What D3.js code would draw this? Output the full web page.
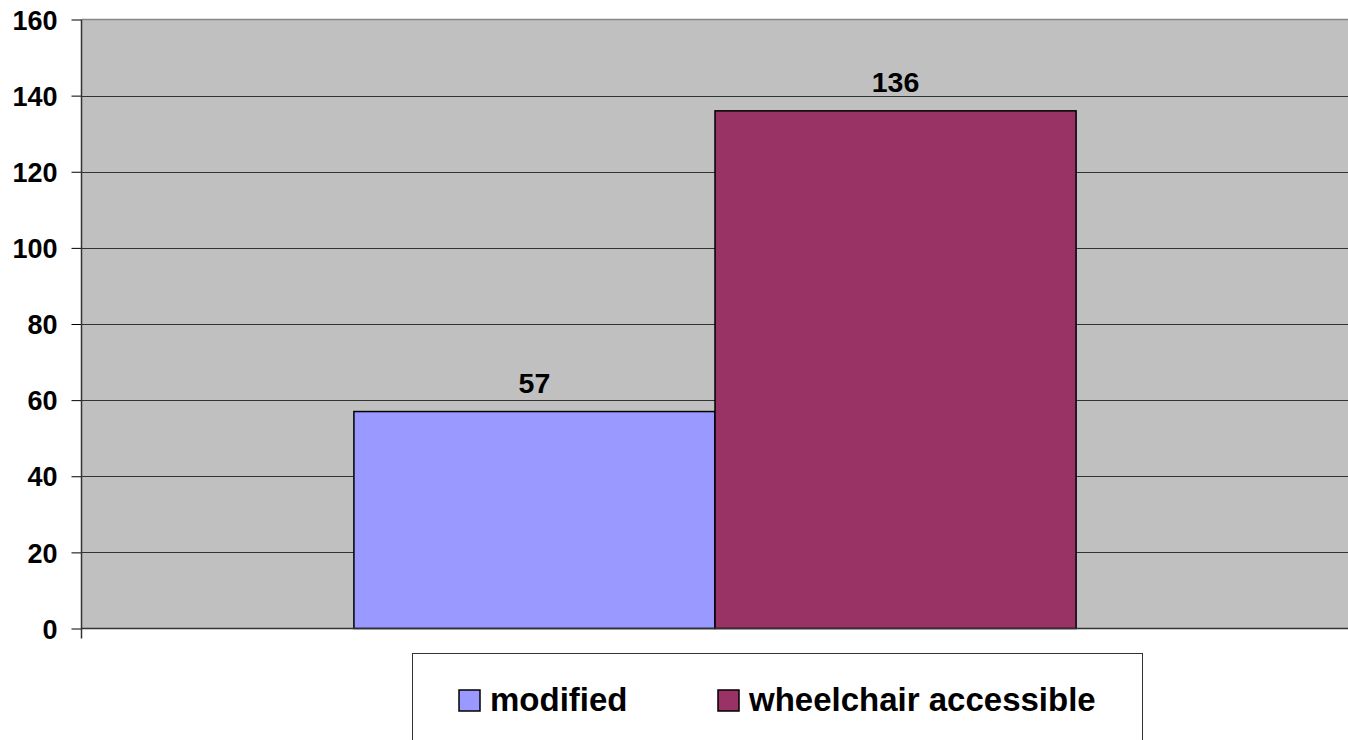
<!DOCTYPE html>
<html><head><meta charset="utf-8">
<script src="https://cdn.jsdelivr.net/npm/d3@7"></script>
<style>html,body{margin:0;padding:0;background:#fff;overflow:hidden}svg{display:block}</style>
</head><body>
<script>
const categories = [""];
const seriesNames = ["modified", "wheelchair accessible"];
const seriesValues = [57, 136];
const seriesColors = ["#9999FF", "#993366"];
const yTicks = [0, 20, 40, 60, 80, 100, 120, 140, 160];

const W = 1348, H = 740;
const svg = d3.select("body").append("svg").attr("width", W).attr("height", H);
const pL = 82, pR = 1348, pT = 19.5, pB = 628.5;

const y = d3.scaleLinear().domain([0, 160]).range([pB, pT]);
const x0 = d3.scaleBand().domain(categories).range([pL, pR]).paddingInner(0).paddingOuter(0.3765);
const x1 = d3.scaleBand().domain(seriesNames).range([0, x0.bandwidth()]);

svg.append("rect").attr("x", pL).attr("y", pT).attr("width", pR - pL).attr("height", pB - pT).attr("fill", "#C0C0C0");

// gridlines
svg.append("g").selectAll("line").data(yTicks.filter(d => d > 0 && d < 160)).join("line")
  .attr("x1", pL).attr("x2", pR).attr("y1", d => Math.round(y(d)) + 0.5).attr("y2", d => Math.round(y(d)) + 0.5)
  .attr("stroke", "#333").attr("stroke-width", 1);
// top border
svg.append("line").attr("x1", pL).attr("x2", pR).attr("y1", pT).attr("y2", pT).attr("stroke", "#888").attr("stroke-width", 1.5);

// bars
const g = svg.append("g").attr("transform", `translate(${x0(categories[0])},0)`);
g.selectAll("rect").data(seriesNames).join("rect")
  .attr("x", (d) => x1(d)).attr("width", x1.bandwidth())
  .attr("y", (d, i) => y(seriesValues[i])).attr("height", (d, i) => y(0) - y(seriesValues[i]))
  .attr("fill", (d, i) => seriesColors[i]).attr("stroke", "#000").attr("stroke-width", 1.5);
g.selectAll("text").data(seriesNames).join("text")
  .attr("x", d => x1(d) + x1.bandwidth() / 2).attr("y", (d, i) => y(seriesValues[i]) - 19)
  .attr("text-anchor", "middle").attr("font-family", "Liberation Sans, Arial, sans-serif")
  .attr("font-weight", "bold").attr("font-size", 28.5).attr("fill", "#000")
  .text((d, i) => seriesValues[i]);

// y axis
const yAxis = d3.axisLeft(y).tickValues(yTicks).tickSize(10).tickPadding(14);
const ya = svg.append("g").attr("transform", `translate(${pL - 0.5},0)`).call(yAxis);
ya.select(".domain").remove();
ya.selectAll(".tick line").attr("stroke", "#000");
ya.selectAll(".tick text").attr("font-family", "Liberation Sans, Arial, sans-serif").attr("font-weight", "bold").attr("font-size", 27).attr("fill", "#000").attr("dy", "0.36em");
svg.append("line").attr("x1", pL - 0.5).attr("x2", pL - 0.5).attr("y1", pT).attr("y2", pB + 10).attr("stroke", "#333").attr("stroke-width", 1.5);
// x axis
svg.append("line").attr("x1", pL - 0.5).attr("x2", pR).attr("y1", pB).attr("y2", pB).attr("stroke", "#333").attr("stroke-width", 1.5);

// legend
const leg = svg.append("g");
leg.append("rect").attr("x", 412.5).attr("y", 653.5).attr("width", 730).attr("height", 120).attr("fill", "#fff").attr("stroke", "#333").attr("stroke-width", 1);
const legX = [459, 718];
seriesNames.forEach((s, i) => {
  leg.append("rect").attr("x", legX[i]).attr("y", 690).attr("width", 21).attr("height", 21).attr("fill", seriesColors[i]).attr("stroke", "#000").attr("stroke-width", 1.5);
  leg.append("text").attr("x", legX[i] + 31).attr("y", 711).attr("font-family", "Liberation Sans, Arial, sans-serif")
    .attr("font-weight", "bold").attr("font-size", 33).attr("fill", "#000").text(s);
});
</script>
</body></html>
